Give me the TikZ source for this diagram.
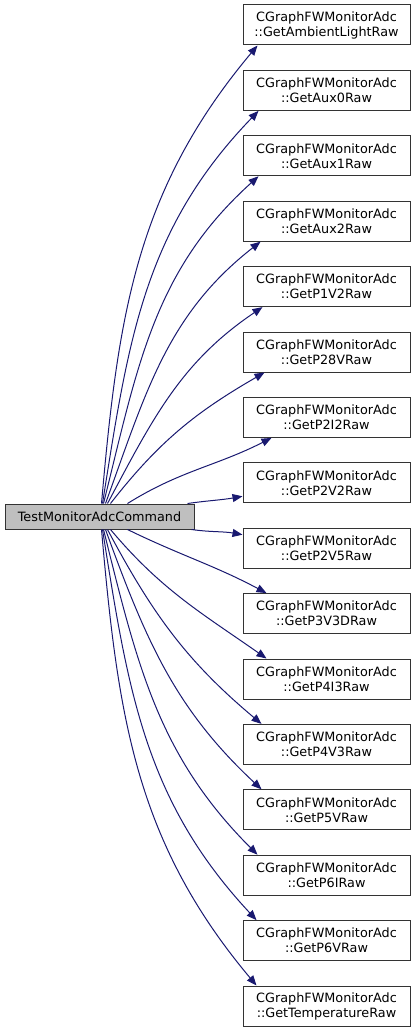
\documentclass[tikz,border=0pt]{standalone}
\usepackage{fontspec}
\setmainfont{DejaVu Sans}
\usetikzlibrary{arrows.meta,positioning}
\definecolor{edgeblue}{RGB}{25,25,112}
\tikzset{>={Triangle[length=10pt,width=8pt]}}
\tikzset{
  fnbox/.style={draw=black!80, line width=1pt, fill=white,
    minimum width=167pt, minimum height=40pt, inner sep=0pt,
    align=center, font=\fontsize{12.8}{15}\selectfont},
  rootbox/.style={fnbox, fill=black!25, minimum width=189pt, minimum height=25pt},
  call/.style={->, edgeblue, line width=1pt}
}

\begin{document}
\begin{tikzpicture}[x=1pt, y=1pt]
  \useasboundingbox (0,0) rectangle (416,-1032);
  \node[rootbox] (main) at (99.5,-516.5) {TestMonitorAdcCommand};
  \foreach \i/\nm in {1/AmbientLight, 2/Aux0, 3/Aux1, 4/Aux2, 5/P1V2, 6/P28V,
      7/P2I2, 8/P2V2, 9/P2V5, 10/P3V3D, 11/P4I3, 12/P4V3, 13/P5V, 14/P6I,
      15/P6V, 16/Temperature}
    \node[fnbox] (b\i) at (326.5,{-25-65.4*(\i-1)}) {CGraphFWMonitorAdc\\::Get\nm Raw};
  % calls above the root
  \draw[call] ([xshift=2pt]main.north) to[out=85,in=230] ([xshift=15pt]b1.south west);
  \draw[call] ([xshift=3pt]main.north) to[out=81,in=226] ([xshift=16pt]b2.south west);
  \draw[call] ([xshift=4pt]main.north) to[out=76,in=222] ([xshift=16pt]b3.south west);
  \draw[call] ([xshift=6pt]main.north) to[out=70,in=218] ([xshift=18pt]b4.south west);
  \draw[call] ([xshift=8pt]main.north) to[out=62,in=214] ([xshift=20pt]b5.south west);
  \draw[call] ([xshift=11pt]main.north) to[out=52,in=210] ([xshift=22pt]b6.south west);
  \draw[call] ([xshift=28pt]main.north) to[out=32,in=207] ([xshift=29pt]b7.south west);
  \draw[call] ([xshift=-7pt]main.north east) to[out=8,in=190] ([yshift=7pt]b8.south west);
  % calls below the root
  \draw[call] ([xshift=-3pt]main.south east) to[out=-8,in=170] ([yshift=-7pt]b9.north west);
  \draw[call] ([xshift=28pt]main.south) to[out=-26,in=152] ([xshift=24pt]b10.north west);
  \draw[call] ([xshift=11pt]main.south) to[out=-50,in=145] ([xshift=24pt]b11.north west);
  \draw[call] ([xshift=8pt]main.south) to[out=-62,in=140] ([xshift=19pt]b12.north west);
  \draw[call] ([xshift=6pt]main.south) to[out=-70,in=137] ([xshift=19pt]b13.north west);
  \draw[call] ([xshift=4pt]main.south) to[out=-76,in=135] ([xshift=15pt]b14.north west);
  \draw[call] ([xshift=3pt]main.south) to[out=-81,in=133] ([xshift=14pt]b15.north west);
  \draw[call] ([xshift=2pt]main.south) to[out=-85,in=130] ([xshift=14pt]b16.north west);
\end{tikzpicture}
\end{document}
